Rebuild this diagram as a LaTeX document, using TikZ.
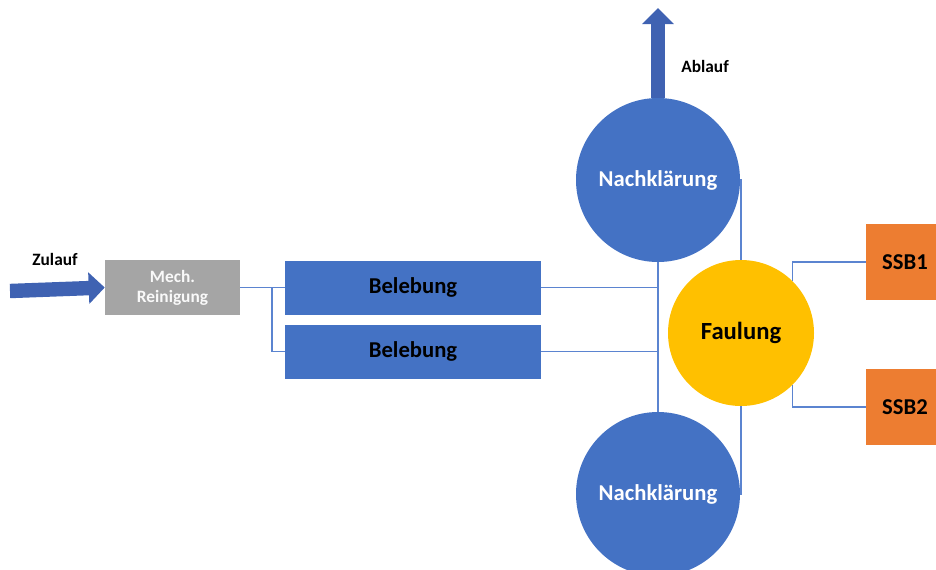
\documentclass[tikz,border=0pt]{standalone}
\usepackage{fontspec}
\setmainfont{Carlito}
\usetikzlibrary{arrows.meta,positioning,calc}
\definecolor{mBlue}{RGB}{68,114,196}
\definecolor{mArrow}{RGB}{63,98,178}
\definecolor{mLine}{RGB}{91,132,208}
\definecolor{mGray}{RGB}{165,165,165}
\definecolor{mYellow}{RGB}{255,192,0}
\definecolor{mOrange}{RGB}{237,125,49}
\tikzset{
  bigtxt/.style={font=\bfseries\fontsize{17}{20}\selectfont},
  smalltxt/.style={font=\bfseries\fontsize{13}{15}\selectfont},
  basin/.style={rectangle, fill=mBlue, bigtxt, text=black, minimum width=192pt, minimum height=40.5pt, inner sep=0pt},
  clarifier/.style={circle, fill=mBlue, bigtxt, text=white, minimum size=123pt, inner sep=0pt},
  digester/.style={circle, fill=mYellow, font=\bfseries\fontsize{18.5}{22}\selectfont, text=black, minimum size=109.5pt, inner sep=0pt},
  storage/.style={rectangle, fill=mOrange, bigtxt, text=black, minimum width=58.5pt, minimum height=57pt, inner sep=0pt},
  pipe/.style={mLine, line width=0.8pt},
  flow/.style={mArrow, line width=10.8pt, -{Triangle[length=12pt, width=23pt]}},
}

\begin{document}
\begin{tikzpicture}[x=0.75pt, y=-0.75pt]
    \useasboundingbox (0,0) rectangle (936,569);
    % treatment units
    \node[rectangle, fill=mGray, smalltxt, text=white!95!gray, align=center,
          minimum width=101.25pt, minimum height=41.25pt, inner sep=0pt]
      (mech) at (172.5,287.5) {Mech.\\Reinigung};
    \node[basin] (bel1) at (413,287.5) {\raisebox{-3pt}{Belebung}};
    \node[basin] (bel2) at (413,351.5) {Belebung};
    \node[clarifier] (nk1) at (658,180) {Nachklärung};
    \node[clarifier] (nk2) at (658,494) {Nachklärung};
    \node[digester] (faul) at (741,333) {Faulung};
    \node[storage] (ssb1) at (905,262) {SSB1};
    \node[storage] (ssb2) at (905,407) {SSB2};
    % inflow and outflow
    \coordinate (zin) at (10,291);
    \coordinate (aout) at (658,8);
    \draw[flow] (zin) -- (mech.west);
    \draw[flow] (nk1.north) -- (aout);
    \node[smalltxt] (zulauf) at (55,259) {Zulauf};
    \node[smalltxt] (ablauf) at (705,66) {Ablauf};
    % pipes
    \coordinate (split) at (272,287.5);
    \draw[pipe] (mech.east) -- (bel1.west);
    \draw[pipe] (split) |- (bel2.west);
    \draw[pipe] (bel1.east) -- (bel1.east -| nk1.south);
    \draw[pipe] (bel2.east) -- (bel2.east -| nk1.south);
    \draw[pipe] (nk1.south) -- (nk2.north);
    \draw[pipe] (nk1.east) -| (faul.north);
    \draw[pipe] (faul.south) |- (nk2.east);
    \draw[pipe] (ssb1.west) -| (faul.45);
    \draw[pipe] (ssb2.west) -| (faul.-45);
\end{tikzpicture}
\end{document}
